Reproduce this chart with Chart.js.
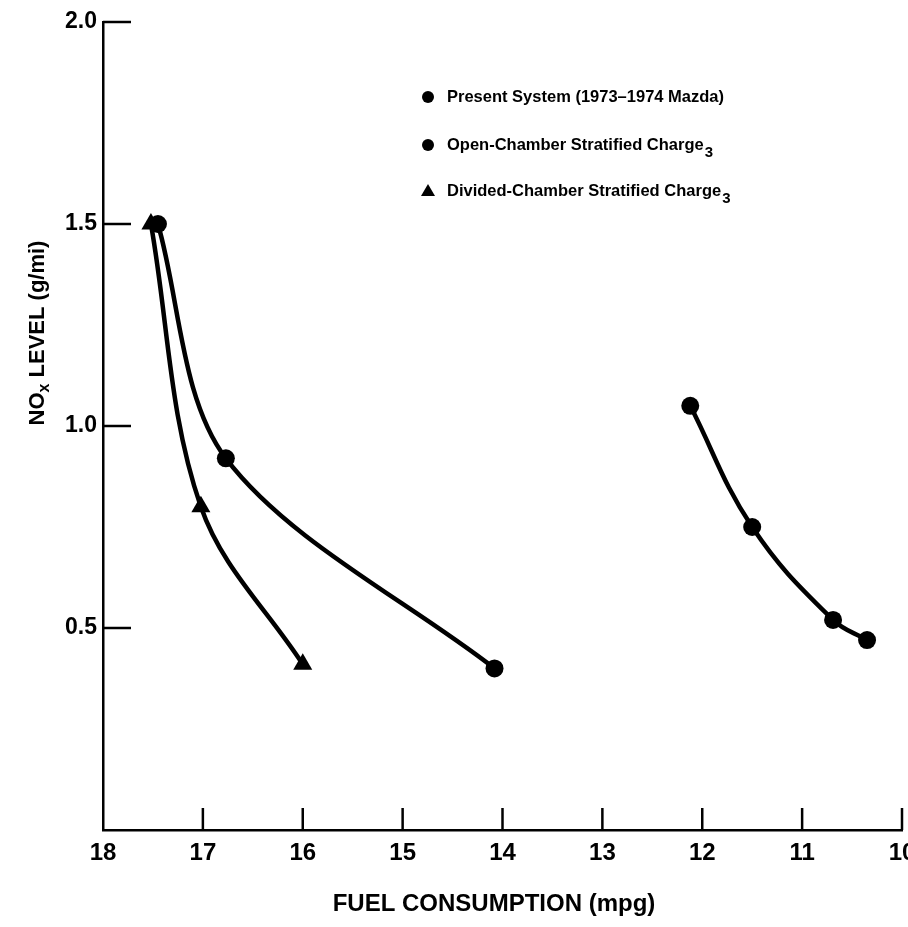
<!DOCTYPE html>
<html>
<head>
<meta charset="utf-8">
<script src="https://cdn.jsdelivr.net/npm/chart.js@4.4.0/dist/chart.umd.min.js"></script>
<style>
  html, body { margin: 0; padding: 0; background: #fff; overflow: hidden; }
  #wrap { width: 908px; height: 927px; position: relative; }
  canvas { display: block; }
</style>
</head>
<body>
<div id="wrap"><canvas id="noxChart"></canvas></div>
<script>
// values (x = mpg, y = NOx g/mi)
const presentX = [12.12, 11.5, 10.69, 10.35];
const presentY = [1.05, 0.75, 0.52, 0.47];
const openX = [17.45, 16.77, 14.08];
const openY = [1.5, 0.92, 0.40];
const dividedX = [17.52, 17.02, 16.0];
const dividedY = [1.5, 0.80, 0.41];

const xTicks = [18, 17, 16, 15, 14, 13, 12, 11, 10];
const yTicks = [0.5, 1.0, 1.5, 2.0];

const legendItems = [
  {label: 'Present System (1973\u20131974 Mazda)', sub: '', style: 'circle'},
  {label: 'Open-Chamber Stratified Charge', sub: '3', style: 'circle'},
  {label: 'Divided-Chamber Stratified Charge', sub: '3', style: 'triangle'}
];

const FONT = "'Liberation Sans', Arial, sans-serif";

const toPts = (xs, ys) => xs.map((x, i) => ({x: x, y: ys[i]}));

function series(label, xs, ys, style, r, t) {
  return {
    label: label,
    data: toPts(xs, ys),
    borderColor: '#000',
    backgroundColor: '#000',
    borderWidth: 4.5,
    pointStyle: style,
    pointRadius: r,
    pointBorderWidth: 0,
    tension: t,
    clip: false
  };
}

// inward tick marks, x labels, axis titles and legend with subscripts
const decor = {
  id: 'decor',
  afterDraw(chart) {
    const ctx = chart.ctx;
    const xs = chart.scales.x, ys = chart.scales.y;
    const area = chart.chartArea;
    ctx.save();
    ctx.strokeStyle = '#000';
    ctx.fillStyle = '#000';
    ctx.lineWidth = 2.5;
    yTicks.forEach(v => {
      const py = ys.getPixelForValue(v);
      ctx.beginPath();
      ctx.moveTo(area.left, py);
      ctx.lineTo(area.left + 28, py);
      ctx.stroke();
    });
    ctx.font = 'bold 24px ' + FONT;
    ctx.textAlign = 'center';
    ctx.textBaseline = 'middle';
    xTicks.forEach(v => {
      const px = xs.getPixelForValue(v);
      ctx.fillText(String(v), px, area.bottom + 23);
      if (v === 18) return;
      ctx.beginPath();
      ctx.moveTo(px, area.bottom);
      ctx.lineTo(px, area.bottom - 22);
      ctx.stroke();
    });

    // x title
    ctx.font = 'bold 24px ' + FONT;
    ctx.fillText('FUEL CONSUMPTION (mpg)', 494, 904);

    // y title with subscript x
    ctx.save();
    ctx.translate(36, 333);
    ctx.rotate(-Math.PI / 2);
    ctx.font = 'bold 22px ' + FONT;
    const a = 'NO', b = 'x', c = ' LEVEL (g/mi)';
    const wa = ctx.measureText(a).width, wc = ctx.measureText(c).width;
    ctx.font = 'bold 16px ' + FONT;
    const wb = ctx.measureText(b).width;
    let sx = -(wa + wb + wc) / 2;
    ctx.textAlign = 'left';
    ctx.textBaseline = 'alphabetic';
    ctx.font = 'bold 22px ' + FONT;
    ctx.fillText(a, sx, 8);
    sx += wa;
    ctx.font = 'bold 16px ' + FONT;
    ctx.fillText(b, sx, 13);
    sx += wb;
    ctx.font = 'bold 22px ' + FONT;
    ctx.fillText(c, sx, 8);
    ctx.restore();

    // legend
    const rowsY = [97, 145, 191];
    legendItems.forEach((it, i) => {
      const y = rowsY[i];
      ctx.beginPath();
      if (it.style === 'circle') {
        ctx.arc(428, y, 6, 0, Math.PI * 2);
      } else {
        ctx.moveTo(428, y - 7);
        ctx.lineTo(435, y + 5);
        ctx.lineTo(421, y + 5);
        ctx.closePath();
      }
      ctx.fill();
      ctx.font = 'bold 16.5px ' + FONT;
      ctx.textAlign = 'left';
      ctx.textBaseline = 'middle';
      ctx.fillText(it.label, 447, y);
      if (it.sub) {
        const w = ctx.measureText(it.label).width;
        ctx.font = 'bold 15px ' + FONT;
        ctx.fillText(it.sub, 447 + w + 1, y + 8);
      }
    });
    ctx.restore();
  }
};

new Chart(document.getElementById('noxChart'), {
  type: 'line',
  data: {
    datasets: [
      series('Present System (1973-1974 Mazda)', presentX, presentY, 'circle', 9, 0.4),
      series('Open-Chamber Stratified Charge', openX, openY, 'circle', 9, 0.32),
      series('Divided-Chamber Stratified Charge', dividedX, dividedY, 'triangle', 11, 0.35)
    ]
  },
  options: {
    responsive: true,
    maintainAspectRatio: false,
    animation: false,
    layout: {autoPadding: false, padding: {top: 22, right: 6, left: 0, bottom: 0}},
    plugins: {legend: {display: false}, tooltip: {enabled: false}},
    scales: {
      x: {
        type: 'linear',
        reverse: true,
        min: 10, max: 18,
        afterFit: s => { s.height = 97; s.paddingLeft = 0; s.paddingRight = 0; },
        afterBuildTicks: s => { s.ticks = xTicks.map(v => ({value: v})); },
        grid: {display: false, drawTicks: false},
        border: {display: true, color: '#000', width: 2.5},
        ticks: {display: false}
      },
      y: {
        type: 'linear',
        min: 0, max: 2.0,
        afterFit: s => { s.width = 103; s.paddingTop = 0; s.paddingBottom = 0; },
        afterBuildTicks: s => { s.ticks = yTicks.map(v => ({value: v})); },
        grid: {display: false, drawTicks: false},
        border: {display: true, color: '#000', width: 2.5},
        ticks: {
          color: '#000',
          padding: 6,
          font: {family: FONT, size: 23, weight: 'bold'},
          callback: v => Number(v).toFixed(1)
        }
      }
    }
  },
  plugins: [decor]
});
</script>
</body>
</html>
